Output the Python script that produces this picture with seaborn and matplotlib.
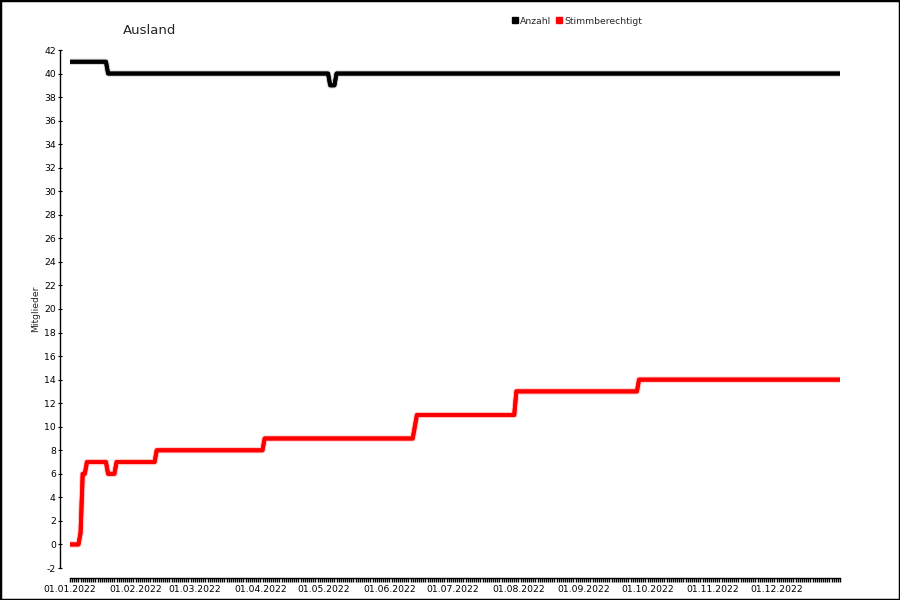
# Mitglieder Ausland 2022: Anzahl und Stimmberechtigt, taeglicher Verlauf

import pandas as pd
import seaborn as sns
import matplotlib.pyplot as plt
import matplotlib.dates as mdates
import matplotlib.patheffects as pe
from matplotlib.lines import Line2D
from matplotlib.patches import Rectangle

# Data: the date on which a value changes, and the new value (held until the next change)

anzahl_dates = ['2022-01-01', '2022-01-19', '2022-05-04', '2022-05-07']
anzahl_values = [41, 40, 39, 40]

stimm_dates = ['2022-01-01', '2022-01-06', '2022-01-07', '2022-01-09', '2022-01-19',
               '2022-01-23', '2022-02-11', '2022-04-03', '2022-06-13', '2022-06-14',
               '2022-07-31', '2022-09-27']
stimm_values = [0, 1, 6, 7, 6, 7, 8, 9, 10, 11, 13, 14]

series_names = ['Anzahl', 'Stimmberechtigt']
series_colors = ['black', 'red']
halo_colors = ['#cfcfcf', '#ffc4c4']

days = pd.date_range('2022-01-01', '2022-12-31', freq='D')


def daily(dates, values):
    s = pd.Series(values, index=pd.to_datetime(dates))
    return s.reindex(days).ffill()


df = pd.DataFrame({'Datum': days,
                   'Anzahl': daily(anzahl_dates, anzahl_values).values,
                   'Stimmberechtigt': daily(stimm_dates, stimm_values).values})
long_df = df.melt(id_vars='Datum', var_name='Serie', value_name='Mitglieder')

# Plot

sns.set_theme(style='ticks')
plt.rcParams['font.family'] = ['DejaVu Sans']
plt.rcParams['axes.unicode_minus'] = False

fig = plt.figure(figsize=(9, 6), dpi=100)
ax = fig.add_axes([70 / 900, 32 / 600, 770 / 900, 518 / 600])

sns.lineplot(data=long_df, x='Datum', y='Mitglieder', hue='Serie',
             palette=dict(zip(series_names, series_colors)), linewidth=2.8,
             legend=False, ax=ax)

for line, halo in zip(ax.lines, halo_colors):
    line.set_path_effects([pe.withStroke(linewidth=4.4, foreground=halo), pe.Normal()])

ax.set_xlim(days[0], days[-1])
ax.set_ylim(-2, 42)
ax.set_yticks(range(-2, 43, 2))

ax.xaxis.set_major_locator(mdates.MonthLocator())
ax.xaxis.set_minor_locator(mdates.DayLocator())
ax.xaxis.set_major_formatter(mdates.DateFormatter('%d.%m.%Y'))

# spines sit 10 px away from the data area (7.2 pt at 100 dpi)
for side in ['top', 'right']:
    ax.spines[side].set_visible(False)
ax.spines['left'].set_position(('outward', 7.2))
ax.spines['bottom'].set_position(('outward', 7.2))
for side in ['left', 'bottom']:
    ax.spines[side].set_linewidth(1)
    ax.spines[side].set_color('black')

ax.tick_params(axis='y', direction='inout', length=3, width=0.8, pad=1.5,
               labelsize=6.7, colors='black')
ax.tick_params(axis='x', which='both', direction='out', length=3.2, width=1.0, pad=1.5,
               labelsize=6.7, colors='black')

ax.set_xlabel('')
ax.set_ylabel('Mitglieder', fontsize=6.7)
ax.yaxis.set_label_coords(-0.039, 0.5)

fig.text(123 / 900, 1 - 30 / 600, 'Ausland', fontsize=9.5, va='center', ha='left')

handles = [Line2D([], [], linestyle='none', marker='s', markersize=5,
                  markerfacecolor=c, markeredgecolor=c) for c in series_colors]
ax.legend(handles, series_names, loc='center', bbox_to_anchor=(577 / 900, 1 - 21 / 600),
          bbox_transform=fig.transFigure, ncol=2, frameon=False, fontsize=6.7,
          handlelength=0.5, handletextpad=0.3, columnspacing=0.6, borderaxespad=0)

fig.patches.append(Rectangle((0, 0), 1, 1, transform=fig.transFigure, fill=False,
                             edgecolor='black', linewidth=2.5, zorder=10))

fig.savefig('out.png', dpi=100, facecolor='white')
